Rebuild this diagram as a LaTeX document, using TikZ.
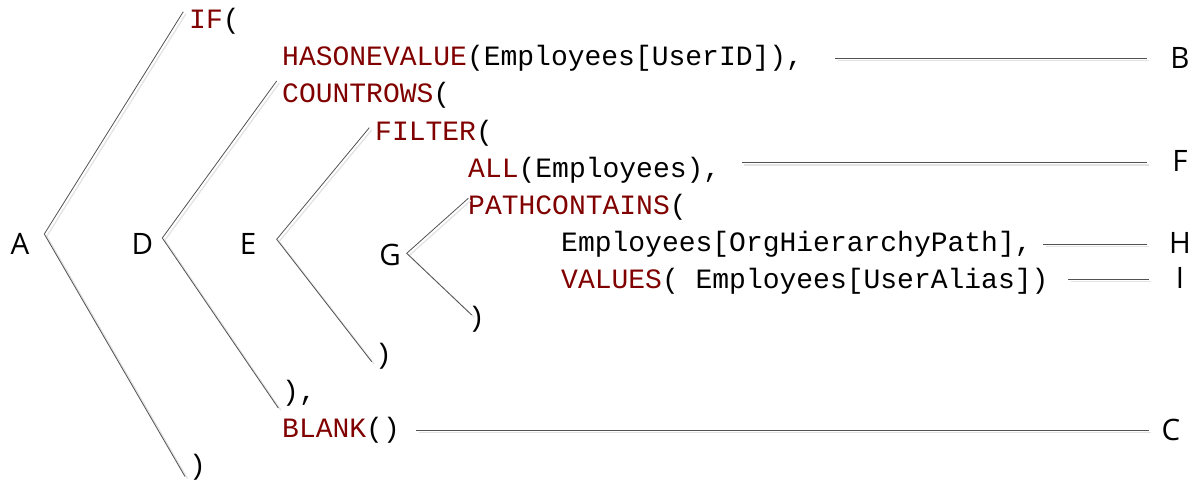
\documentclass[tikz,border=0pt]{standalone}
\usepackage{fontspec}
\newfontfamily\codefont{Liberation Mono}
\newfontfamily\tagfont{Open Sans}
\definecolor{kw}{HTML}{800000}
\begin{document}
\begin{tikzpicture}[x=1pt,y=-1pt,
  code/.style={anchor=base west,inner sep=0pt,font=\codefont\fontsize{28}{30}\selectfont},
  tag/.style={anchor=base,inner sep=0pt,font=\tagfont\fontsize{29.5}{32}\selectfont},
  lnk/.style={draw=black!68,line width=0.8pt},
  lnkshade/.style={draw=black!11,line width=1.3pt,transform canvas={shift={(2.5pt,-2.2pt)}}}]
\useasboundingbox (0,0) rectangle (1196,479);
\newcommand\kwd[1]{\textcolor{kw}{#1}}
\newcommand\duo[1]{\draw[lnkshade] #1; \draw[lnk] #1;}

% code lines
\node[code] (r0)  at (189,28.5)  {\kwd{IF}(};
\node[code] (r1)  at (282,65.7)  {\kwd{HASONEVALUE}(Employees[UserID]),};
\node[code] (r2)  at (282,102.9) {\kwd{COUNTROWS}(};
\node[code] (r3)  at (375,140.1) {\kwd{FILTER}(};
\node[code] (r4)  at (468,177.3) {\kwd{ALL}(Employees),};
\node[code] (r5)  at (468,214.5) {\kwd{PATHCONTAINS}(};
\node[code] (r6)  at (561,251.7) {Employees[OrgHierarchyPath],};
\node[code] (r7)  at (561,288.9) {\kwd{VALUES}( Employees[UserAlias])};
\node[code] (r8)  at (468,326.1) {)};
\node[code] (r9)  at (375,363.3) {)};
\node[code] (r10) at (282,400.5) {),};
\node[code] (r11) at (282,437.7) {\kwd{BLANK}()};
\node[code] (r12) at (189,474.9) {)};

% letters
\node[tag] (A) at (20,254)     {A};
\node[tag] (D) at (142.5,254)  {D};
\node[tag] (E) at (248,254)    {E};
\node[tag] (G) at (390,265)    {G};
\node[tag] (B) at (1180,68.3)  {B};
\node[tag] (F) at (1180,171.7) {F};
\node[tag] (H) at (1180,253.3) {H};
\node[tag] (I) at (1180,288.3) {I};
\node[tag] (C) at (1171,440)   {C};

% bracket points
\coordinate (a1) at (183.3,11.7);  \coordinate (a0) at (44.3,234);    \coordinate (a2) at (185,476.5);
\coordinate (d1) at (276.7,81);    \coordinate (d0) at (162.3,238);   \coordinate (d2) at (278.3,408);
\coordinate (e1) at (369.3,127.7); \coordinate (e0) at (276.7,239.3); \coordinate (e2) at (371.7,361.7);
\coordinate (g1) at (468.3,198.3); \coordinate (g0) at (406.7,253.3); \coordinate (g2) at (471.7,315);

% rule points
\coordinate (b1) at (835,58.3);   \coordinate (b2) at (1146.7,58.3);
\coordinate (f1) at (741.7,162.7);\coordinate (f2) at (1146.7,162.7);
\coordinate (h1) at (1043.3,244); \coordinate (h2) at (1146.7,244);
\coordinate (i1) at (1068.3,279.3);\coordinate (i2) at (1148.7,279.3);
\coordinate (c1) at (416,430);    \coordinate (c2) at (1148.7,430);

\duo{(a1) -- (a0) -- (a2)}
\duo{(d1) -- (d0) -- (d2)}
\duo{(e1) -- (e0) -- (e2)}
\duo{(g1) -- (g0) -- (g2)}
\duo{(b1) -- (b2)}
\duo{(f1) -- (f2)}
\duo{(h1) -- (h2)}
\duo{(i1) -- (i2)}
\duo{(c1) -- (c2)}
\end{tikzpicture}
\end{document}
